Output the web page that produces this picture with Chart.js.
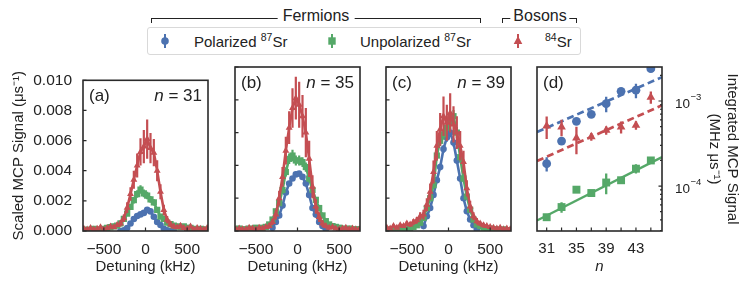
<!DOCTYPE html>
<html>
<head>
<meta charset="utf-8">
<script src="https://cdn.jsdelivr.net/npm/chart.js@4.4.1/dist/chart.umd.min.js"></script>
<style>
  body { margin: 0; background: #fff; font-family: "Liberation Sans", Arial, sans-serif; color: #222; }
  #fig { position: relative; width: 747px; height: 287px; overflow: hidden; }
  canvas { position: absolute; top: 60px; }
  .brk { position: absolute; top: 18px; height: 5px; border: 1.7px solid #222; border-bottom: 0; box-sizing: border-box; }
  .btxt { position: absolute; top: 7px; line-height: 18px; font-size: 16px; background: #fff; padding: 0 5px; transform: translateX(-50%); white-space: nowrap; }
  .legend { position: absolute; left: 147px; top: 27px; width: 434px; height: 28px; border: 1px solid #d9d9d9; border-radius: 3px; box-sizing: border-box; }
  .lt { position: absolute; top: 34px; font-size: 15px; line-height: 15px; white-space: nowrap; }
  .sp { font-size: 10.5px; position: relative; top: -6.5px; }
  .mk { position: absolute; top: 32px; }
</style>
</head>
<body>
<div id="fig">
  <div class="brk" style="left:151px;width:330px"></div>
  <div class="btxt" style="left:316px">Fermions</div>
  <div class="brk" style="left:502px;width:75px"></div>
  <div class="btxt" style="left:540px;padding:0 3px">Bosons</div>

  <div class="legend"></div>
  <svg class="mk" style="left:158px" width="14" height="18">
    <line x1="7" y1="2" x2="7" y2="16" stroke="#4C72B0" stroke-width="2"/>
    <circle cx="7" cy="9" r="3.8" fill="#4C72B0"/>
  </svg>
  <div class="lt" style="left:194px">Polarized <span class="sp">87</span>Sr</div>
  <svg class="mk" style="left:325px" width="14" height="18">
    <line x1="7" y1="2" x2="7" y2="16" stroke="#55A868" stroke-width="2"/>
    <rect x="3.3" y="5.3" width="7.4" height="7.4" fill="#55A868"/>
  </svg>
  <div class="lt" style="left:360px">Unpolarized <span class="sp">87</span>Sr</div>
  <svg class="mk" style="left:511px" width="14" height="18">
    <line x1="7" y1="2" x2="7" y2="16" stroke="#C44E52" stroke-width="2"/>
    <polygon points="7,4 11.3,12 2.7,12" fill="#C44E52"/>
  </svg>
  <div class="lt" style="left:545px"><span class="sp">84</span>Sr</div>

  <canvas id="pa" width="222" height="227" style="left:0px"></canvas>
  <canvas id="pb" width="152" height="227" style="left:222px"></canvas>
  <canvas id="pc" width="150" height="227" style="left:374px"></canvas>
  <canvas id="pd" width="223" height="227" style="left:524px"></canvas>
</div>

<script>
// detuning grid (kHz); polarized data only covers the central part
const detuning = [-740,-700,-660,-620,-580,-540,-500,-460,-420,-380,-340,-300,-260,-220,-180,-140,-100,-60,-20,20,60,100,140,180,220,260,300,340,380,420,460,500,540,580,620,660,700,740];
const detuningPol = [-300,-260,-220,-180,-140,-100,-60,-20,20,60,100,140,180,220,260,300,340];

// scaled MCP signal, in units of 1e-3 us^-1
// (a) n = 31
const redA = [0.15,0.10,0.20,0.10,0.15,0.25,0.10,0.20,0.30,0.25,0.40,0.50,0.85,1.55,2.45,3.40,4.35,5.25,5.60,6.10,5.50,5.20,4.00,2.60,1.40,0.75,0.45,0.30,0.25,0.35,0.20,0.15,0.30,0.10,0.20,0.15,0.10,0.20];
const redAErr = [0.08,0.08,0.10,0.08,0.08,0.10,0.08,0.10,0.12,0.12,0.15,0.20,0.25,0.35,0.45,0.60,0.80,0.90,1.10,1.30,1.00,0.90,0.70,0.50,0.35,0.25,0.20,0.15,0.12,0.12,0.10,0.10,0.10,0.08,0.10,0.08,0.08,0.08];
const greenA = [0.10,0.05,0.10,0.15,0.10,0.10,0.15,0.20,0.25,0.30,0.35,0.50,0.80,1.15,1.60,2.05,2.45,2.75,2.50,2.35,2.10,1.90,1.40,0.95,0.80,0.55,0.45,0.35,0.30,0.25,0.30,0.20,0.20,0.15,0.10,0.15,0.10,0.10];
const greenAErr = [0.05,0.05,0.05,0.05,0.05,0.05,0.05,0.06,0.06,0.07,0.08,0.10,0.12,0.15,0.18,0.22,0.25,0.28,0.26,0.25,0.22,0.20,0.16,0.12,0.10,0.08,0.08,0.07,0.06,0.06,0.06,0.05,0.05,0.05,0.05,0.05,0.05,0.05];
const blueA = [0.00,0.05,0.20,0.50,0.80,1.00,1.10,1.20,1.40,1.30,0.95,0.60,0.40,0.15,0.05,0.00,0.00];
const blueAErr = [0.03,0.03,0.05,0.06,0.08,0.10,0.10,0.11,0.12,0.12,0.10,0.08,0.06,0.05,0.03,0.03,0.03];

// (b) n = 35
const redB = [0.10,0.15,0.10,0.10,0.20,0.15,0.10,0.20,0.15,0.25,0.30,0.55,1.00,2.00,3.30,4.90,6.30,7.50,8.10,7.70,7.00,6.00,4.40,2.70,1.50,0.85,0.45,0.30,0.20,0.25,0.15,0.10,0.15,0.20,0.10,0.15,0.10,0.10];
const redBErr = [0.08,0.10,0.08,0.08,0.10,0.10,0.08,0.10,0.10,0.12,0.15,0.20,0.30,0.45,0.60,0.85,1.00,1.20,1.30,1.40,1.30,1.50,1.10,0.70,0.45,0.30,0.20,0.15,0.12,0.12,0.10,0.08,0.10,0.10,0.08,0.10,0.08,0.08];
const greenB = [0.10,0.15,0.10,0.10,0.15,0.10,0.20,0.15,0.20,0.25,0.40,0.70,1.20,1.70,2.50,3.60,4.40,4.60,4.30,4.30,4.20,3.90,3.20,2.50,1.90,1.40,0.95,0.60,0.40,0.30,0.25,0.20,0.15,0.10,0.15,0.10,0.10,0.10];
const greenBErr = [0.05,0.05,0.05,0.05,0.05,0.05,0.06,0.05,0.06,0.07,0.08,0.10,0.14,0.18,0.22,0.28,0.32,0.35,0.30,0.30,0.30,0.28,0.24,0.20,0.16,0.12,0.10,0.08,0.07,0.06,0.06,0.05,0.05,0.05,0.05,0.05,0.05,0.05];
const blueB = [0.20,0.55,0.95,1.55,2.35,2.90,3.20,3.45,3.50,3.30,2.90,2.20,1.40,1.00,0.55,0.30,0.10];
const blueBErr = [0.04,0.06,0.08,0.10,0.12,0.14,0.15,0.16,0.16,0.15,0.14,0.12,0.10,0.08,0.06,0.04,0.03];

// (c) n = 39
const redC = [0.20,0.15,0.30,0.20,0.35,0.30,0.45,0.40,0.55,0.65,0.90,1.00,1.60,2.40,3.60,5.20,6.20,7.00,6.60,7.20,6.50,6.00,5.20,4.20,2.60,1.50,0.90,0.60,0.45,0.35,0.30,0.25,0.20,0.15,0.20,0.10,0.15,0.10];
const redCErr = [0.10,0.10,0.12,0.10,0.12,0.12,0.15,0.15,0.18,0.20,0.25,0.30,0.40,0.50,0.70,0.90,1.00,1.20,1.10,1.20,1.10,1.00,0.90,0.70,0.50,0.35,0.25,0.20,0.15,0.15,0.12,0.10,0.10,0.10,0.10,0.08,0.08,0.08];
const greenC = [0.05,0.10,0.05,0.10,0.10,0.15,0.10,0.20,0.25,0.35,0.50,0.80,1.40,2.00,2.80,4.60,5.50,5.90,6.30,6.60,7.00,6.00,4.50,3.20,2.10,1.30,0.70,0.40,0.30,0.20,0.15,0.15,0.10,0.10,0.05,0.10,0.05,0.05];
const greenCErr = [0.04,0.04,0.04,0.04,0.04,0.05,0.05,0.06,0.06,0.07,0.08,0.10,0.14,0.18,0.22,0.28,0.32,0.34,0.35,0.36,0.38,0.34,0.28,0.22,0.16,0.12,0.08,0.06,0.05,0.05,0.04,0.04,0.04,0.04,0.04,0.04,0.04,0.04];
const blueC = [0.30,0.90,1.40,2.20,3.10,3.90,5.00,5.70,6.00,5.40,4.30,3.20,2.00,1.20,0.70,0.35,0.10];
const blueCErr = [0.05,0.08,0.10,0.12,0.16,0.20,0.24,0.26,0.27,0.25,0.20,0.16,0.12,0.10,0.07,0.05,0.03];

// (d) integrated signal vs n (MHz us^-1)
const nLevels = [31,33,35,37,39,41,43,45];
const bluePol = [1.83e-4,3.38e-4,5.77e-4,6.98e-4,9.30e-4,1.30e-3,1.34e-3,2.40e-3];
const bluePolErr = [3.5e-5,3.0e-5,5.0e-5,5.0e-5,1.9e-4,1.0e-4,2.6e-4,2.0e-4];
const greenUnpol = [4.3e-5,5.66e-5,9.06e-5,8.28e-5,1.10e-4,1.17e-4,1.60e-4,2.00e-4];
const greenUnpolErr = [4e-6,8e-6,8e-6,6e-6,3.0e-5,1.0e-5,2.0e-5,1.5e-5];
const redBos = [5.08e-4,4.94e-4,3.67e-4,3.80e-4,4.52e-4,4.94e-4,5.18e-4,1.11e-3];
const redBosErr = [1.5e-4,1.1e-4,1.3e-4,4e-5,5e-5,8e-5,6e-5,1.8e-4];
const fitN = [29.7, 46.5];
const blueFit = [4.31e-4, 1.91e-3];
const redFit = [1.97e-4, 8.9e-4];
const greenFit = [3.94e-5, 2.19e-4];

// ticks
const detuningTicks = [-500, 0, 500];
const signalTicks = [0, 0.002, 0.004, 0.006, 0.008, 0.010];
const nTicks = [31,33,35,37,39,41,43,45];
const nLabels = [31,35,39,43];
const logMajor = [1e-4, 1e-3];
const logExps = ['\u22124', '\u22123'];
const logMinor = [3e-5,4e-5,5e-5,6e-5,7e-5,8e-5,9e-5,2e-4,3e-4,4e-4,5e-4,6e-4,7e-4,8e-4,9e-4,2e-3];

const FONT = '"Liberation Sans", Arial, sans-serif';
const C_BLUE = '#4C72B0', C_GREEN = '#55A868', C_RED = '#C44E52';
Chart.defaults.font.family = FONT;
Chart.defaults.color = '#222';

const decos = {};

const panelDeco = {
  id: 'panelDeco',
  beforeDatasetDraw(chart, args) {
    const ds = chart.data.datasets[args.index];
    if (!ds.errors) return;
    const ctx = chart.ctx, a = chart.chartArea;
    const xs = chart.scales.x, ys = chart.scales.y;
    ctx.save();
    ctx.beginPath();
    ctx.rect(a.left, a.top, a.right - a.left, a.bottom - a.top);
    ctx.clip();
    ctx.strokeStyle = ds.borderColor;
    ctx.lineWidth = ds.errorWidth || 2;
    ctx.beginPath();
    ds.data.forEach((p, i) => {
      const px = xs.getPixelForValue(p.x);
      ctx.moveTo(px, ys.getPixelForValue(Math.max(p.y - ds.errors[i], 1e-9)));
      ctx.lineTo(px, ys.getPixelForValue(p.y + ds.errors[i]));
    });
    ctx.stroke();
    ctx.restore();
  },
  afterDraw(chart) {
    const o = decos[chart.canvas.id];
    if (!o) return;
    const ctx = chart.ctx, a = chart.chartArea;
    const xs = chart.scales.x, ys = chart.scales.y;
    ctx.save();
    ctx.strokeStyle = '#2a2a2a';
    ctx.lineWidth = 1.6;
    ctx.strokeRect(a.left, a.top, a.right - a.left, a.bottom - a.top);

    // inward ticks
    ctx.lineWidth = 1.2;
    ctx.beginPath();
    o.xTicks.forEach(v => {
      const px = xs.getPixelForValue(v);
      ctx.moveTo(px, a.bottom);
      ctx.lineTo(px, a.bottom - 3.5);
    });
    const side = o.ySide === 'right' ? a.right : a.left;
    const dir = o.ySide === 'right' ? -1 : 1;
    o.yTicks.forEach(v => {
      const py = ys.getPixelForValue(v);
      ctx.moveTo(side, py);
      ctx.lineTo(side + dir * 3.5, py);
    });
    (o.yMinor || []).forEach(v => {
      const py = ys.getPixelForValue(v);
      ctx.moveTo(side, py);
      ctx.lineTo(side + dir * 2, py);
    });
    ctx.stroke();

    // panel labels
    ctx.fillStyle = '#222';
    ctx.textAlign = 'left';
    ctx.textBaseline = 'alphabetic';
    ctx.font = '17px ' + FONT;
    ctx.fillText(o.label, a.left + 6, a.top + 21);
    if (o.n) {
      const rest = ' = ' + o.n;
      const wr = ctx.measureText(rest).width;
      const xr = a.right - 6 - wr;
      ctx.fillText(rest, xr, a.top + 21);
      ctx.font = 'italic 17px ' + FONT;
      ctx.fillText('n', xr - ctx.measureText('n').width, a.top + 21);
    }

    // 10^x labels on the log axis
    if (o.logLabels) {
      logMajor.forEach((v, i) => {
        const py = ys.getPixelForValue(v);
        ctx.font = '13.5px ' + FONT;
        ctx.fillText('10', a.right + 13, py + 6.5);
        const w = ctx.measureText('10').width;
        ctx.font = '9.5px ' + FONT;
        ctx.fillText(logExps[i], a.right + 13 + w + 0.5, py - 1);
      });
    }
    ctx.restore();
  }
};
Chart.register(panelDeco);

function pts(xs, ys, k) {
  return xs.map((x, i) => ({x: x, y: ys[i] * k}));
}
function fmtKHz(v) {
  return v < 0 ? '\u2212' + Math.abs(v) : String(v);
}

function spectrum(id, pad, red, redErr, green, greenErr, blue, blueErr, label, n, showY) {
  decos[id] = {label: label, n: n, xTicks: detuningTicks, yTicks: signalTicks, ySide: 'left'};
  const common = {showLine: true, borderWidth: 2.6, pointBorderWidth: 0, clip: 0, errorWidth: 2.2};
  const yAxis = {
    type: 'linear', min: 0, max: 0.010, display: showY,
    afterBuildTicks: s => { s.ticks = signalTicks.map(v => ({value: v})); },
    grid: {display: false, drawTicks: false}, border: {display: false},
    ticks: {padding: 11, font: {size: 15.5}, callback: v => v.toFixed(3)},
    title: {display: true, text: 'Scaled MCP Signal (\u03bcs\u207b\u00b9)', font: {size: 15}, padding: {top: 9.5, bottom: 0}}
  };
  if (showY) yAxis.afterFit = s => { s.width = 83; };
  return new Chart(document.getElementById(id), {
    type: 'scatter',
    data: {
      datasets: [
        Object.assign({data: pts(detuningPol, blue, 1e-3), errors: blueErr.map(e => e * 1e-3), borderColor: C_BLUE, backgroundColor: C_BLUE, pointStyle: 'circle', pointRadius: 3.3, order: 2}, common),
        Object.assign({data: pts(detuning, green, 1e-3), errors: greenErr.map(e => e * 1e-3), borderColor: C_GREEN, backgroundColor: C_GREEN, pointStyle: 'rect', pointRadius: 4.4, order: 1}, common),
        Object.assign({data: pts(detuning, red, 1e-3), errors: redErr.map(e => e * 1e-3), borderColor: C_RED, backgroundColor: C_RED, pointStyle: 'triangle', pointRadius: 4, order: 0}, common)
      ]
    },
    options: {
      responsive: false, animation: false, events: [],
      layout: {padding: pad},
      plugins: {legend: {display: false}, tooltip: {enabled: false}},
      scales: {
        x: {
          type: 'linear', min: -750, max: 750,
          afterBuildTicks: s => { s.ticks = detuningTicks.map(v => ({value: v})); },
          afterFit: s => { s.height = 56; },
          grid: {display: false, drawTicks: false}, border: {display: false},
          ticks: {padding: 9, font: {size: 15.5}, maxRotation: 0, autoSkip: false, callback: fmtKHz},
          title: {display: true, text: 'Detuning (kHz)', font: {size: 15}, padding: {top: 0, bottom: 11.5}}
        },
        y: yAxis
      }
    }
  });
}

spectrum('pa', {top: 7, right: 14, left: 0, bottom: 0}, redA, redAErr, greenA, greenAErr, blueA, blueAErr, '(a)', '31', true);
spectrum('pb', {top: 7, right: 14, left: 13, bottom: 0}, redB, redBErr, greenB, greenBErr, blueB, blueBErr, '(b)', '35', false);
spectrum('pc', {top: 7, right: 13, left: 12, bottom: 0}, redC, redCErr, greenC, greenCErr, blueC, blueCErr, '(c)', '39', false);

// (d)
decos['pd'] = {label: '(d)', xTicks: nTicks, yTicks: logMajor, yMinor: logMinor, ySide: 'right', logLabels: true};
const pointCommon = {showLine: false, pointBorderWidth: 0, clip: 0, errorWidth: 2.3};
const fitCommon = {showLine: true, pointRadius: 0, borderWidth: 2.7, clip: 0, order: 5};
new Chart(document.getElementById('pd'), {
  type: 'scatter',
  data: {
    datasets: [
      Object.assign({data: pts(fitN, blueFit, 1), borderColor: C_BLUE, borderDash: [7, 4]}, fitCommon),
      Object.assign({data: pts(fitN, redFit, 1), borderColor: C_RED, borderDash: [7, 4]}, fitCommon),
      Object.assign({data: pts(fitN, greenFit, 1), borderColor: C_GREEN}, fitCommon, {borderWidth: 2.3}),
      Object.assign({data: pts(nLevels, bluePol, 1), errors: bluePolErr, borderColor: C_BLUE, backgroundColor: C_BLUE, pointStyle: 'circle', pointRadius: 4.4, order: 2}, pointCommon),
      Object.assign({data: pts(nLevels, greenUnpol, 1), errors: greenUnpolErr, borderColor: C_GREEN, backgroundColor: C_GREEN, pointStyle: 'rect', pointRadius: 5.6, order: 1}, pointCommon),
      Object.assign({data: pts(nLevels, redBos, 1), errors: redBosErr, borderColor: C_RED, backgroundColor: C_RED, pointStyle: 'triangle', pointRadius: 5, order: 0}, pointCommon)
    ]
  },
  options: {
    responsive: false, animation: false, events: [],
    layout: {padding: {top: 7, right: 0, left: 13, bottom: 0}},
    plugins: {legend: {display: false}, tooltip: {enabled: false}},
    scales: {
      x: {
        type: 'linear', min: 29.7, max: 46.5,
        afterBuildTicks: s => { s.ticks = nTicks.map(v => ({value: v})); },
        afterFit: s => { s.height = 56; },
        grid: {display: false, drawTicks: false}, border: {display: false},
        ticks: {padding: 9, font: {size: 15}, maxRotation: 0, autoSkip: false, callback: v => nLabels.includes(v) ? String(v) : ''},
        title: {display: true, text: 'n', font: {size: 15, style: 'italic'}, padding: {top: 0, bottom: 11.5}}
      },
      y: {
        type: 'logarithmic', position: 'right', min: 2.96e-5, max: 2.512e-3,
        afterFit: s => { s.width = 85; },
        grid: {display: false, drawTicks: false}, border: {display: false},
        ticks: {display: false},
        title: {display: true, text: ['Integrated MCP Signal', '(MHz \u03bcs\u207b\u00b9)'], font: {size: 15}, padding: {top: 6.3, bottom: 0}}
      }
    }
  }
});
</script>
</body>
</html>
